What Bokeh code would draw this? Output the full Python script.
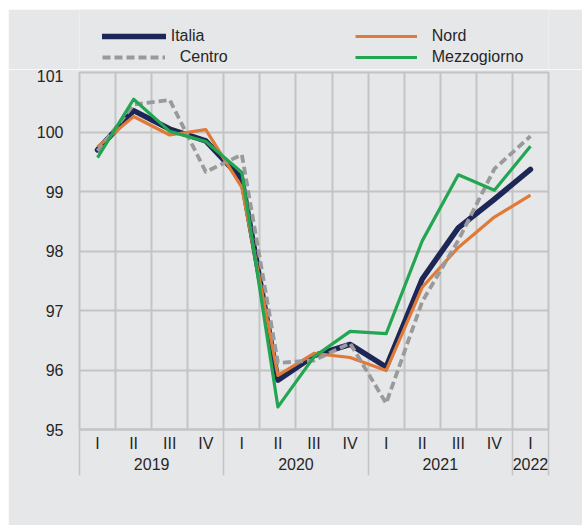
from bokeh.plotting import figure
from bokeh.layouts import column
from bokeh.models import (ColumnDataSource, Range1d, FixedTicker, LinearAxis,
                          Legend, LegendItem)
from bokeh.embed import file_html
from bokeh.resources import INLINE

# ---- data ----
quarters = ["I", "II", "III", "IV", "I", "II", "III", "IV", "I", "II", "III", "IV", "I"]
years = ["2019", "2020", "2021", "2022"]
quarters_per_year = [4, 4, 4, 1]

italia = [99.70, 100.36, 100.05, 99.85, 99.21, 95.83, 96.24, 96.43, 96.05, 97.53, 98.39, 98.87, 99.37]
nord = [99.75, 100.26, 99.95, 100.04, 99.07, 95.91, 96.28, 96.21, 95.99, 97.39, 98.06, 98.57, 98.94]
centro = [99.68, 100.46, 100.54, 99.33, 99.62, 96.12, 96.16, 96.45, 95.44, 97.15, 98.18, 99.38, 99.93]
mezzogiorno = [99.57, 100.55, 100.01, 99.84, 99.32, 95.38, 96.22, 96.65, 96.61, 98.17, 99.28, 99.02, 99.76]

y_ticks = [95, 96, 97, 98, 99, 100, 101]

# ---- derived positions ----
n = len(quarters)
xc = [i + 0.5 for i in range(n)]
bounds = [0]
for k in quarters_per_year:
    bounds.append(bounds[-1] + k)
year_centers = [(bounds[i] + bounds[i + 1]) / 2 for i in range(len(years))]

src = ColumnDataSource(dict(x=xc, italia=italia, nord=nord, centro=centro, mezz=mezzogiorno))

BG = "#e6e7e9"
GRID = "#c4c4c5"
TXT = "#262626"
FONT = "Liberation Sans"

STYLES = {
    "Italia": dict(line_color="#1c2756", line_width=5.5, line_join="round", line_cap="round"),
    "Nord": dict(line_color="#e07a38", line_width=3.2, line_join="round"),
    "Centro": dict(line_color="#9a9a9b", line_width=3.8, line_dash="8 4", line_join="round"),
    "Mezzogiorno": dict(line_color="#23a651", line_width=3.2, line_join="round"),
}

# ---------------- main chart ----------------
p = figure(frame_width=469, frame_height=357,
           min_border_left=71, min_border_right=34, min_border_top=3, min_border_bottom=96,
           x_range=Range1d(0, n), y_range=Range1d(y_ticks[0], y_ticks[-1]),
           output_backend="svg", toolbar_location=None,
           background_fill_color=BG, border_fill_color=BG,
           margin=(0, 0, 0, 8))

p.outline_line_color = GRID
p.outline_line_width = 2

p.xgrid.ticker = FixedTicker(ticks=list(range(n + 1)))
p.ygrid.ticker = FixedTicker(ticks=y_ticks)
for g in (p.xgrid, p.ygrid):
    g.grid_line_color = GRID
    g.grid_line_width = 2

ya = p.yaxis[0]
ya.ticker = FixedTicker(ticks=y_ticks)
ya.major_tick_out = 0
ya.major_tick_in = 0
ya.minor_tick_out = 0
ya.minor_tick_in = 0
ya.axis_line_color = None
ya.major_label_standoff = 16
ya.major_label_text_font = FONT
ya.major_label_text_font_size = "16px"
ya.major_label_text_color = TXT

xa = p.xaxis[0]
xa.ticker = FixedTicker(ticks=xc, minor_ticks=[float(b) for b in bounds])
xa.major_label_overrides = {float(x): q for x, q in zip(xc, quarters)}
xa.major_tick_out = 0
xa.major_tick_in = 0
xa.minor_tick_in = 0
xa.minor_tick_out = 46
xa.minor_tick_line_color = GRID
xa.minor_tick_line_width = 1.5
xa.axis_line_color = GRID
xa.axis_line_width = 2
xa.major_label_standoff = -41
xa.major_label_text_font = FONT
xa.major_label_text_font_size = "16px"
xa.major_label_text_color = TXT

xa2 = LinearAxis(ticker=FixedTicker(ticks=year_centers, minor_ticks=[]),
                 major_label_overrides={float(x): y for x, y in zip(year_centers, years)})
xa2.major_tick_out = 0
xa2.major_tick_in = 0
xa2.minor_tick_out = 0
xa2.minor_tick_in = 0
xa2.axis_line_color = None
xa2.major_label_standoff = 3
xa2.major_label_text_font = FONT
xa2.major_label_text_font_size = "16px"
xa2.major_label_text_color = TXT
p.add_layout(xa2, "below")

p.line("x", "italia", source=src, **STYLES["Italia"])
p.line("x", "nord", source=src, **STYLES["Nord"])
p.line("x", "centro", source=src, **STYLES["Centro"])
p.line("x", "mezz", source=src, **STYLES["Mezzogiorno"])

# ---------------- legend strip ----------------
lf = figure(width=574, height=60, x_range=Range1d(0, 1), y_range=Range1d(0, 1),
            min_border=0, x_axis_location=None, y_axis_location=None,
            output_backend="svg", toolbar_location=None,
            background_fill_color=BG, border_fill_color=BG,
            margin=(9, 0, 0, 8))
lf.outline_line_color = None
lf.grid.visible = False

nan = float("nan")
rends = {}
for name in ["Italia", "Centro", "Nord", "Mezzogiorno"]:
    rends[name] = lf.line(x=[nan, nan], y=[nan, nan], **STYLES[name])


def make_legend(names, loc, glyph_width, standoff):
    lg = Legend(items=[LegendItem(label=nm, renderers=[rends[nm]]) for nm in names],
                orientation="vertical", location=loc,
                glyph_width=glyph_width, glyph_height=20, label_height=20,
                label_standoff=standoff, spacing=1, padding=0, margin=0,
                border_line_alpha=0, background_fill_alpha=0,
                label_text_font=FONT, label_text_font_size="16px",
                label_text_color=TXT)
    lf.add_layout(lg, "center")


make_legend(["Italia"], (22.7, 23), 64, 5)
make_legend(["Centro"], (22.7, 2), 63, 15)
make_legend(["Nord", "Mezzogiorno"], (275.7, 2), 62, 15)

layout = column(lf, p, spacing=0)
open("out.html", "w").write(file_html(layout, INLINE))
